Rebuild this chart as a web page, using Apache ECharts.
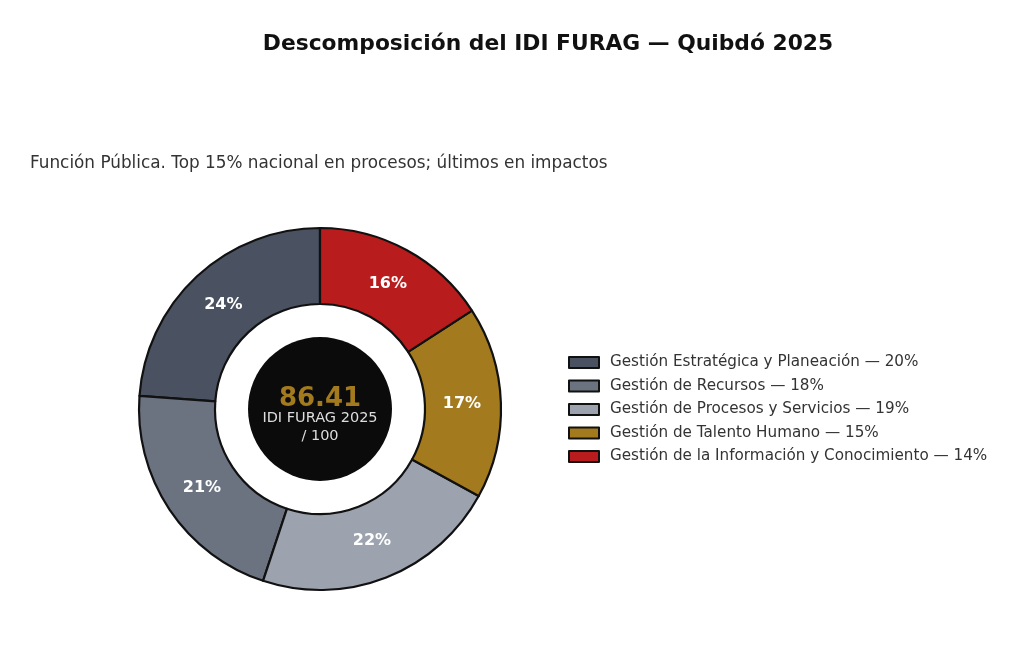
<!DOCTYPE html>
<html>
<head>
<meta charset="utf-8">
<script src="https://cdn.jsdelivr.net/npm/echarts@6/dist/echarts.min.js"></script>
<style>
  html, body { margin: 0; padding: 0; background: #fff; }
  #main { width: 1024px; height: 666px; }
</style>
</head>
<body>
<div id="main"></div>
<script>
var chart = echarts.init(document.getElementById('main'));

// componentes del IDI (puntos sobre 100)
var names = [
  'Gestión Estratégica y Planeación',
  'Gestión de Recursos',
  'Gestión de Procesos y Servicios',
  'Gestión de Talento Humano',
  'Gestión de la Información y Conocimiento'
];
var values = [20.6, 18.2, 19.1, 14.8, 13.7];
var legendPct = [20, 18, 19, 15, 14];
var colors = ['#4a5261', '#6b7280', '#9ca3af', '#a37b1e', '#b91c1c'];
var score = '86.41';

var font = 'DejaVu Sans';
var data = names.map(function (n, i) {
  return { name: n, value: values[i], itemStyle: { color: colors[i] } };
});
var legendText = {};
names.forEach(function (n, i) { legendText[n] = n + ' — ' + legendPct[i] + '%'; });

option = {
  backgroundColor: '#fff',
  animation: false,
  title: [{
    text: 'Descomposición del IDI FURAG — Quibdó 2025',
    left: 543, top: 28, textAlign: 'center',
    textStyle: { fontFamily: font, fontSize: 21.8, fontWeight: 'bold', color: '#111' }
  }, {
    text: 'Función Pública. Top 15% nacional en procesos; últimos en impactos',
    left: 25, top: 150,
    textStyle: { fontFamily: font, fontSize: 16.85, fontWeight: 'normal', color: '#333' }
  }],
  legend: {
    orient: 'vertical',
    left: 563, top: 350,
    icon: 'rect',
    itemWidth: 30, itemHeight: 11, itemGap: 8.5,
    data: names,
    formatter: function (n) { return legendText[n]; },
    itemStyle: { borderColor: '#111', borderWidth: 2 },
    textStyle: { fontFamily: font, fontSize: 15.2, color: '#333', padding: [0, 0, 0, 6] },
    selectedMode: false
  },
  series: [{
    type: 'pie',
    center: [320, 409],
    radius: [105, 181],
    startAngle: 90,
    clockwise: false,
    silent: true,
    data: data,
    itemStyle: { borderColor: '#111', borderWidth: 2.2 },
    label: { show: false },
    labelLine: { show: false }
  }, {
    // misma división, sólo para colocar las etiquetas un poco más adentro
    type: 'pie',
    center: [320, 409],
    radius: [97, 181],
    startAngle: 90,
    clockwise: false,
    silent: true,
    legendHoverLink: false,
    z: 3,
    data: values.map(function (v, i) { return { name: names[i], value: v }; }),
    itemStyle: { color: 'transparent', borderWidth: 0 },
    label: {
      position: 'inside',
      formatter: function (p) { return Math.round(p.percent) + '%'; },
      fontFamily: font, fontSize: 16, fontWeight: 'bold', color: '#fff'
    },
    labelLine: { show: false }
  }, {
    type: 'pie',
    center: [320, 409],
    radius: [0, 72],
    silent: true,
    data: [{ value: 1, itemStyle: { color: '#0b0b0b' } }],
    label: { show: false },
    labelLine: { show: false },
    legendHoverLink: false
  }],
  graphic: [{
    type: 'text', z: 100,
    style: {
      x: 320, y: 399, text: score, textAlign: 'center', textVerticalAlign: 'middle',
      fontFamily: font, fontSize: 26, fontWeight: 'bold', fill: '#a37b1e'
    }
  }, {
    type: 'text', z: 100,
    style: {
      x: 320, y: 418, text: 'IDI FURAG 2025', textAlign: 'center', textVerticalAlign: 'middle',
      fontFamily: font, fontSize: 14.5, fill: '#ddd'
    }
  }, {
    type: 'text', z: 100,
    style: {
      x: 320, y: 436, text: '/ 100', textAlign: 'center', textVerticalAlign: 'middle',
      fontFamily: font, fontSize: 14.5, fill: '#ddd'
    }
  }]
};
chart.setOption(option);
</script>
</body>
</html>
